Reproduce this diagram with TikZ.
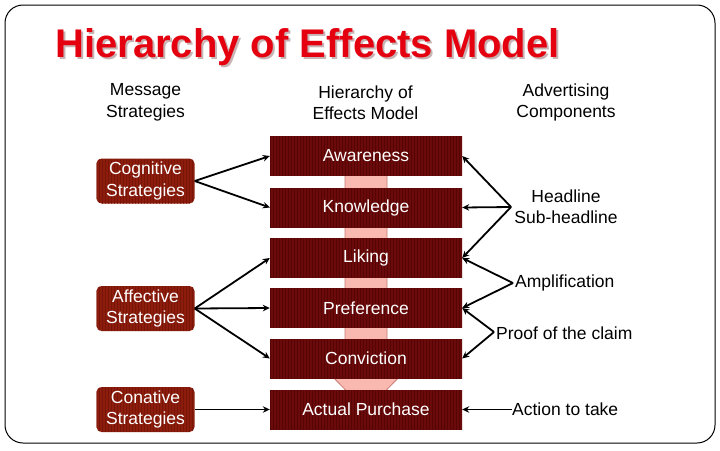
\documentclass[tikz,border=0pt]{standalone}
\usepackage{fontspec}
\setmainfont{Liberation Sans}
\usetikzlibrary{arrows.meta}
\definecolor{boxred}{HTML}{6A0A0A}
\definecolor{boxstripe}{HTML}{560404}
\definecolor{leftred}{HTML}{8C1C0C}
\definecolor{leftstripe}{HTML}{781408}
\definecolor{pinkfill}{HTML}{F9B9B0}
\definecolor{pinkedge}{HTML}{C87A72}
\definecolor{titlered}{HTML}{E50010}
\definecolor{shadowcol}{HTML}{C8B4B4}
\begin{document}
\begin{tikzpicture}[x=1pt,y=-1pt,
  txt/.style={font=\fontsize{17.5}{21.5}\selectfont, align=center, inner sep=0pt},
  striped/.style={path picture={\foreach \k in {0,3,...,200}{\draw[#1, line width=0.9pt] ([xshift=\k pt]path picture bounding box.south west) -- ([xshift=\k pt]path picture bounding box.north west);}}},
  stage/.style={txt, text=white, minimum width=192pt, minimum height=40pt, fill=boxred, striped=boxstripe},
  strat/.style={txt, text=white, minimum width=98pt, minimum height=45pt, rounded corners=5pt, fill=leftred, striped=leftstripe},
  conn/.style={line width=1.8pt, -{Stealth[length=7pt,width=6.5pt]}},
  titlefont/.style={font=\fontsize{40}{44}\selectfont\bfseries, inner sep=0pt, anchor=base}
]
\useasboundingbox (0,0) rectangle (720,450);
\fill[white] (0,0) rectangle (720,450);
\draw[line width=1pt, rounded corners=18pt] (5,5) rectangle (715,443);

% title
\node[titlefont, text=shadowcol] (titleshadow) at (309.5,59.5) {Hierarchy of Effects Model};
\node[titlefont, text=titlered] (title) at (307.5,57.5) {Hierarchy of Effects Model};

% column headers
\node[txt] (h1) at (145.5,102.5) {Message\\Strategies};
\node[txt] (h2) at (365.5,102.5) {Hierarchy of\\Effects Model};
\node[txt] (h3) at (566,102.5) {Advertising\\Components};

% pink backbone with arrow head
\draw[pinkedge, fill=pinkfill, line width=0.8pt]
  (345,150) -- (387,150) -- (387,372) -- (404,372) -- (366,411) -- (328,372) -- (345,372) -- cycle;

% stages
\node[stage] (aware) at (366,156) {Awareness};
\node[stage] (know) at (366,207.5) {Knowledge};
\node[stage] (like) at (366,258) {Liking};
\node[stage] (pref) at (366,308) {Preference};
\node[stage] (conv) at (366,358.5) {Conviction};
\node[stage] (buy) at (366,409.5) {Actual Purchase};

% strategies
\node[strat] (cog) at (145.5,181) {Cognitive\\Strategies};
\node[strat] (aff) at (145.5,308.5) {Affective\\Strategies};
\node[strat] (con) at (145.5,409.5) {Conative\\Strategies};

\draw[conn] (cog.east) -- (aware.west);
\draw[conn] (cog.east) -- (know.west);
\draw[conn] (aff.east) -- (like.west);
\draw[conn] (aff.east) -- (pref.west);
\draw[conn] (aff.east) -- (conv.west);
\draw[conn] (con.east) -- (buy.west);

% advertising components
\node[txt] (head) at (566,206.5) {Headline\\Sub-headline};
\node[txt, anchor=west] (amp) at (515,283) {Amplification};
\node[txt, anchor=west] (proof) at (496,333) {Proof of the claim};
\node[txt, anchor=west] (act) at (512,409.5) {Action to take};

\coordinate (hv) at (511,207);
\coordinate (av) at (513,283);
\coordinate (pv) at (494,332);

\draw[conn] (hv) -- (aware.east);
\draw[conn] (hv) -- (know.east);
\draw[conn] (hv) -- (like.east);
\draw[conn] (av) -- (like.east);
\draw[conn] (av) -- (pref.east);
\draw[conn] (pv) -- (pref.east);
\draw[conn] (pv) -- (conv.east);
\draw[conn] (act.west) -- (buy.east);
\end{tikzpicture}
\end{document}
